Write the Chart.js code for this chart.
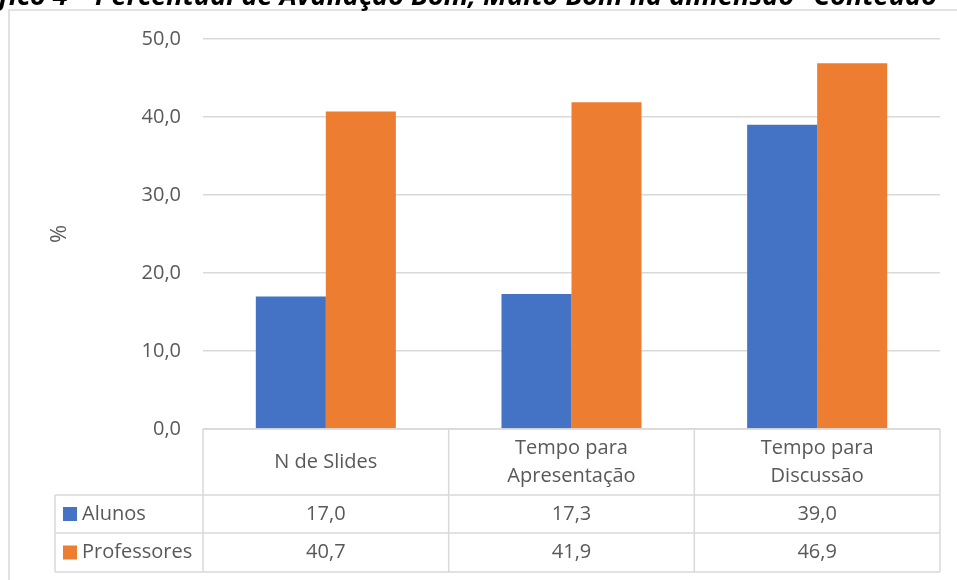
<!DOCTYPE html>
<html>
<head>
<meta charset="utf-8">
<script src="https://cdn.jsdelivr.net/npm/chart.js@4"></script>
<style>
  html, body { margin: 0; padding: 0; background: #fff; }
  canvas { display: block; }
</style>
</head>
<body>
<canvas id="grafico" width="957" height="580"></canvas>
<script>
const categorias = [['N de Slides'], ['Tempo para', 'Apresentação'], ['Tempo para', 'Discussão']];
const alunos = [17.0, 17.3, 39.0];
const professores = [40.7, 41.9, 46.9];
const tituloPrefixo = 'Gráfico 4 – ';
const titulo = 'Percentual de Avaliação Bom, Muito Bom na dimensão "Conteúdo"';

const AZUL = '#4472C4';
const LARANJA = '#ED7D31';
const CINZA = '#d9d9d9';
const TEXTO = '#595959';
const FONTE = "'Open Sans', sans-serif";

const fmt = (v) => v.toFixed(1).replace('.', ',');

// moldura e titulo (cortado no topo, como na imagem)
const moldura = {
  id: 'moldura',
  beforeDraw(chart) {
    const ctx = chart.ctx;
    ctx.save();
    ctx.strokeStyle = CINZA;
    ctx.lineWidth = 1.5;
    ctx.beginPath();
    ctx.moveTo(9, 580);
    ctx.lineTo(9, 10);
    ctx.lineTo(957, 10);
    ctx.stroke();

    ctx.fillStyle = '#000';
    ctx.font = `italic bold 20px ${FONTE}`;
    const w = ctx.measureText(titulo).width;
    const size = 20 * 855 / w;
    ctx.font = `italic bold ${size}px ${FONTE}`;
    ctx.textBaseline = 'alphabetic';
    ctx.textAlign = 'left';
    ctx.fillText(titulo, 95, 5);
    ctx.textAlign = 'right';
    ctx.fillText(tituloPrefixo, 95, 5);
    ctx.restore();
  }
};

// tabela de dados abaixo do eixo x
const tabela = {
  id: 'tabela',
  afterDraw(chart) {
    const ctx = chart.ctx;
    const x = chart.scales.x;
    const n = categorias.length;
    const centros = categorias.map((_, i) => x.getPixelForValue(i));
    const bordas = [x.left];
    for (let i = 0; i < n - 1; i++) bordas.push((centros[i] + centros[i + 1]) / 2);
    bordas.push(x.right);

    const topo = chart.chartArea.bottom;
    const linhas = [topo, 495, 533, 572];
    const esq = 55;

    ctx.save();
    ctx.strokeStyle = CINZA;
    ctx.lineWidth = 1.5;
    ctx.beginPath();
    ctx.moveTo(bordas[0], linhas[0]);
    ctx.lineTo(x.right, linhas[0]);
    for (let r = 1; r < linhas.length; r++) {
      ctx.moveTo(esq, linhas[r]);
      ctx.lineTo(x.right, linhas[r]);
    }
    bordas.forEach((b) => {
      ctx.moveTo(b, linhas[0]);
      ctx.lineTo(b, linhas[3]);
    });
    ctx.moveTo(esq, linhas[1]);
    ctx.lineTo(esq, linhas[3]);
    ctx.stroke();

    ctx.fillStyle = TEXTO;
    ctx.font = `20px ${FONTE}`;
    ctx.textAlign = 'center';
    ctx.textBaseline = 'middle';
    const meioHeader = (linhas[0] + linhas[1]) / 2;
    categorias.forEach((linhasTxt, i) => {
      const h = 28;
      const y0 = meioHeader - (linhasTxt.length - 1) * h / 2;
      linhasTxt.forEach((t, k) => ctx.fillText(t, centros[i], y0 + k * h));
    });

    const series = [
      { nome: 'Alunos', cor: AZUL, dados: alunos },
      { nome: 'Professores', cor: LARANJA, dados: professores }
    ];
    series.forEach((s, r) => {
      const ym = (linhas[r + 1] + linhas[r + 2]) / 2;
      ctx.fillStyle = s.cor;
      ctx.fillRect(63, ym - 7, 14, 14);
      ctx.fillStyle = TEXTO;
      ctx.textAlign = 'left';
      ctx.fillText(s.nome, 82, ym);
      ctx.textAlign = 'center';
      s.dados.forEach((v, i) => ctx.fillText(fmt(v), centros[i], ym));
    });
    ctx.restore();
  }
};

Chart.defaults.font.family = FONTE;
Chart.defaults.font.size = 20;
Chart.defaults.color = TEXTO;

new Chart(document.getElementById('grafico'), {
  type: 'bar',
  data: {
    labels: categorias,
    datasets: [
      {
        label: 'Alunos',
        data: alunos,
        backgroundColor: AZUL,
        barPercentage: 1,
        categoryPercentage: 0.57
      },
      {
        label: 'Professores',
        data: professores,
        backgroundColor: LARANJA,
        barPercentage: 1,
        categoryPercentage: 0.57
      }
    ]
  },
  options: {
    responsive: false,
    animation: false,
    devicePixelRatio: 1,
    layout: {
      padding: { top: 39, left: 9, right: 17, bottom: 8 }
    },
    scales: {
      x: {
        ticks: { display: false },
        grid: { display: false },
        border: { display: false },
        afterFit: (scale) => { scale.height = 143; }
      },
      y: {
        min: 0,
        max: 50,
        ticks: {
          stepSize: 10,
          padding: 22,
          callback: (v) => fmt(v)
        },
        grid: { color: CINZA, lineWidth: 1.5, drawTicks: false },
        border: { display: false },
        title: {
          display: true,
          text: '%',
          font: { size: 22, family: FONTE },
          padding: { top: 38, bottom: 0 }
        },
        afterFit: (scale) => { scale.width = 194; }
      }
    },
    plugins: {
      legend: { display: false },
      tooltip: { enabled: false }
    }
  },
  plugins: [moldura, tabela]
});
</script>
</body>
</html>
